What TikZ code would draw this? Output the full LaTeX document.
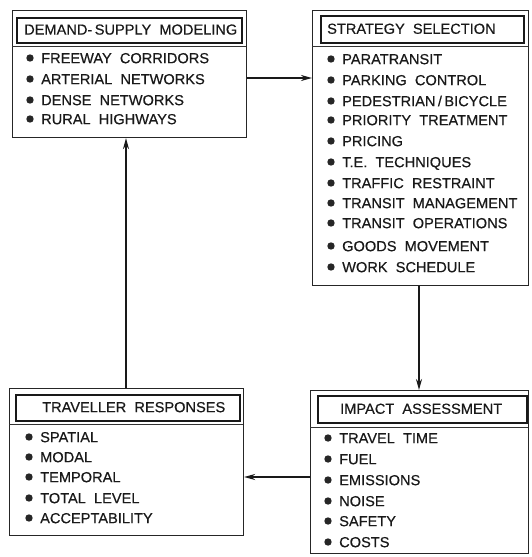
\documentclass[tikz,border=0pt]{standalone}
\usepackage{fontspec}
\setmainfont{Liberation Sans}
\newfontfamily\lettering{Liberation Sans}[FakeBold=0.45]
\usetikzlibrary{arrows.meta}
\begin{document}
\begin{tikzpicture}[x=1pt,y=-1pt,
  outerbox/.style={draw=black!85, line width=1.1pt, rectangle, inner sep=0pt, anchor=north west},
  titlebox/.style={draw=black!90, line width=1.8pt, rectangle, inner sep=0pt, anchor=north west},
  txt/.style={anchor=base west, inner sep=0pt, text=black!90, font=\lettering\fontsize{14.6}{17}\selectfont},
  sep/.style={draw=black!80, line width=0.9pt},
  bul/.style={fill=black!85},
  conn/.style={draw=black!90, line width=1.6pt, -{Stealth[length=11pt,width=6pt]}}
]
\useasboundingbox (0,0) rectangle (532,557);
\newcommand{\itm}[4]{% name, bullet x, y, text
  \fill[bul] (#2,#3) circle (3.7);
  \node[txt] (#1) at ({#2+11},{#3+5.2}) {#4};}

% Box 1: Demand-supply modeling
\node[outerbox, minimum width=234, minimum height=127] (b1) at (12,10) {};
\node[titlebox, minimum width=225, minimum height=25] (t1) at (16,17) {};
\node[txt] (t1txt) at (24,34.6) {DEMAND-\,SUPPLY\ \ MODELING};
\draw[sep] (12,46) -- (246,46);
\itm{a1}{30}{58}{FREEWAY\ \ CORRIDORS}
\itm{a2}{30}{79}{ARTERIAL\ \ NETWORKS}
\itm{a3}{30}{100}{DENSE\ \ NETWORKS}
\itm{a4}{30}{119}{RURAL\ \ HIGHWAYS}

% Box 2: Strategy selection
\node[outerbox, minimum width=216, minimum height=275] (b2) at (312,10) {};
\node[titlebox, minimum width=203, minimum height=27] (t2) at (320,15) {};
\node[txt] (t2txt) at (327,33.8) {STRATEGY\ \ SELECTION};
\draw[sep] (312,46) -- (528,46);
\itm{s1}{331}{59}{PARATRANSIT}
\itm{s2}{331}{80}{PARKING\ \ CONTROL}
\itm{s3}{331}{101}{PEDESTRIAN\,/\,BICYCLE}
\itm{s4}{331}{120}{PRIORITY\ \ TREATMENT}
\itm{s5}{331}{141}{PRICING}
\itm{s6}{331}{162}{T.E.\ \ TECHNIQUES}
\itm{s7}{331}{183}{TRAFFIC\ \ RESTRAINT}
\itm{s8}{331}{203}{TRANSIT\ \ MANAGEMENT}
\itm{s9}{331}{223}{TRANSIT\ \ OPERATIONS}
\itm{s10}{331}{246}{GOODS\ \ MOVEMENT}
\itm{s11}{331}{267}{WORK\ \ SCHEDULE}

% Box 3: Traveller responses
\node[outerbox, minimum width=234, minimum height=147] (b3) at (9,388) {};
\node[titlebox, minimum width=224, minimum height=26] (t3) at (15,394) {};
\node[txt] (t3txt) at (42,412.2) {TRAVELLER\ \ RESPONSES};
\draw[sep] (9,424) -- (243,424);
\itm{r1}{29}{437}{SPATIAL}
\itm{r2}{29}{457}{MODAL}
\itm{r3}{29}{477}{TEMPORAL}
\itm{r4}{29}{498}{TOTAL\ \ LEVEL}
\itm{r5}{29}{518}{ACCEPTABILITY}

% Box 4: Impact assessment
\node[outerbox, minimum width=218, minimum height=163] (b4) at (310,390) {};
\node[titlebox, minimum width=209, minimum height=27] (t4) at (317,395) {};
\node[txt] (t4txt) at (340,413.8) {IMPACT\ \ ASSESSMENT};
\draw[sep] (310,427) -- (528,427);
\itm{i1}{328}{438}{TRAVEL\ \ TIME}
\itm{i2}{328}{459}{FUEL}
\itm{i3}{328}{480}{EMISSIONS}
\itm{i4}{328}{501}{NOISE}
\itm{i5}{328}{521}{SAFETY}
\itm{i6}{328}{542}{COSTS}

% Connectors
\draw[conn] (b1.east |- 0,78) -- (b2.west |- 0,78);
\draw[conn] (b2.south -| 419,0) -- (b4.north -| 419,0);
\draw[conn] (b4.west |- 0,477) -- (b3.east |- 0,477);
\draw[conn] (b3.north -| 126,0) -- (b1.south -| 126,0);
\end{tikzpicture}
\end{document}
